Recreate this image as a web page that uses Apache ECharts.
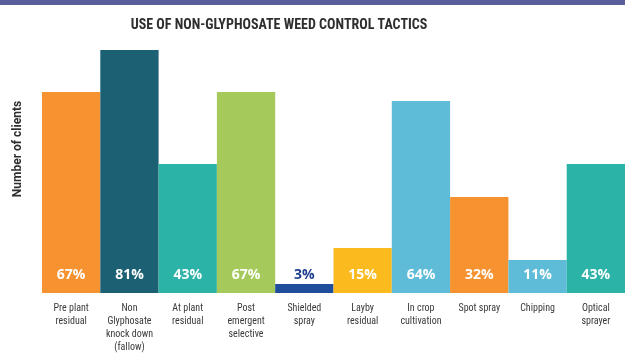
<!DOCTYPE html>
<html>
<head>
<meta charset="utf-8">
<script src="https://cdn.jsdelivr.net/npm/echarts@6/dist/echarts.min.js"></script>
<style>
  html, body { margin: 0; padding: 0; background: #ffffff; }
  #chart { width: 625px; height: 355px; }
</style>
</head>
<body>
<div id="chart"></div>
<script>
// Weed control tactics and the share of clients using each one (%)
const categories = [
  'Pre plant\nresidual',
  'Non\nGlyphosate\nknock down\n(fallow)',
  'At plant\nresidual',
  'Post\nemergent\nselective',
  'Shielded\nspray',
  'Layby\nresidual',
  'In crop\ncultivation',
  'Spot spray',
  'Chipping',
  'Optical\nsprayer'
];
const shares = [67, 81, 43, 67, 3, 15, 64, 32, 11, 43];
const barColors = [
  '#f6922f', '#1c6074', '#2bb3a7', '#a5c95b', '#1f4d9c',
  '#fbbb1f', '#5fbcd8', '#f6922f', '#5fbcd8', '#2bb3a7'
];
const labelColors = [
  '#ffffff', '#ffffff', '#ffffff', '#ffffff', '#1f3f8f',
  '#ffffff', '#ffffff', '#ffffff', '#ffffff', '#ffffff'
];

const condensed = "'Roboto Condensed', 'Open Sans Condensed', sans-serif";

const chart = echarts.init(document.getElementById('chart'), null, { renderer: 'canvas' });
chart.setOption({
  animation: false,
  backgroundColor: '#ffffff',
  title: {
    text: 'USE OF NON-GLYPHOSATE WEED CONTROL TACTICS',
    left: 274,
    textAlign: 'center',
    top: 13,
    textStyle: { fontFamily: condensed, fontWeight: 'bold', fontSize: 14, color: '#2e2e2e' }
  },
  graphic: [
    { type: 'rect', left: 0, top: 0, shape: { width: 625, height: 5 }, style: { fill: '#5a5e9b' } },
    {
      type: 'text', x: 18, y: 149, rotation: Math.PI / 2,
      style: {
        text: 'Number of clients', fill: '#2e2e2e',
        font: 'bold 12px Roboto, sans-serif',
        align: 'center', verticalAlign: 'middle'
      }
    }
  ],
  grid: { left: 42, top: 50, width: 590, height: 243 },
  xAxis: {
    type: 'category',
    data: categories,
    axisLine: { show: false },
    axisTick: { show: false },
    axisLabel: {
      interval: 0, margin: 9, color: '#3a3a3a',
      fontFamily: condensed, fontSize: 10, lineHeight: 13
    }
  },
  yAxis: {
    type: 'value', min: 0, max: 81,
    show: false
  },
  series: [{
    type: 'bar',
    barWidth: '100%',
    data: shares.map((v, i) => ({
      value: v,
      itemStyle: { color: barColors[i] },
      label: { color: labelColors[i] }
    })),
    label: {
      show: true,
      position: 'insideBottom',
      distance: 11,
      formatter: p => p.value + '%',
      fontFamily: "'Open Sans', sans-serif",
      fontWeight: 'bold',
      fontSize: 14
    }
  }]
});
</script>
</body>
</html>
